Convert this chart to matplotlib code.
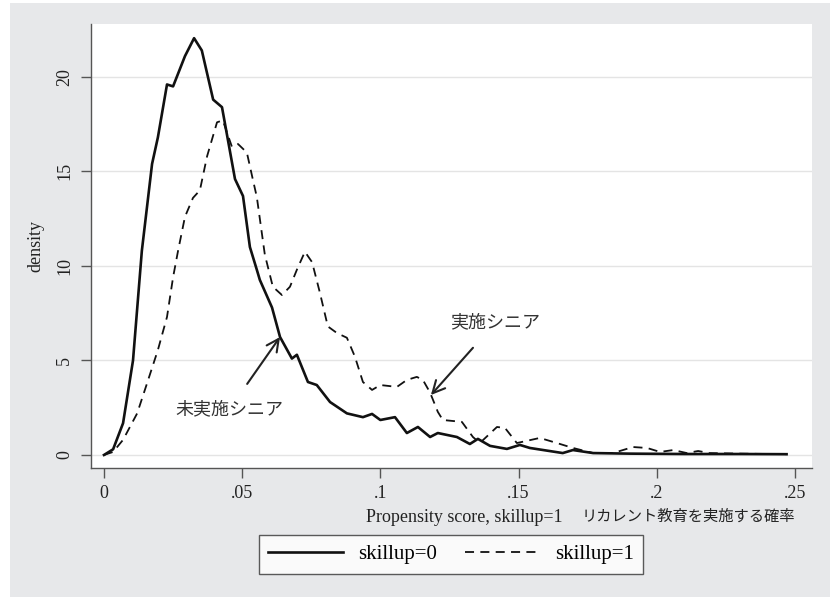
import matplotlib
matplotlib.use('Agg')
import matplotlib.pyplot as plt
from matplotlib.patches import Rectangle

plt.rcParams['font.family'] = ['Liberation Serif', 'Noto Sans CJK JP', 'DejaVu Sans']
plt.rcParams['font.size'] = 12

# kernel density of the propensity score
solid_x = [0, 0.0033, 0.0069, 0.0105, 0.0137, 0.0174, 0.0195, 0.0228, 0.025, 0.0293,
           0.0326, 0.0354, 0.0395, 0.0427, 0.0474, 0.0503, 0.0528, 0.0553, 0.0564, 0.0608,
           0.0637, 0.068, 0.0698, 0.0738, 0.077, 0.0818, 0.0879, 0.0937, 0.097, 0.1,
           0.1053, 0.1096, 0.1136, 0.118, 0.1208, 0.1277, 0.1324, 0.1353, 0.1397, 0.1458,
           0.1505, 0.1541, 0.166, 0.1697, 0.177, 0.19, 0.21, 0.23, 0.247]
solid_y = [0, 0.3, 1.68, 5.0, 10.8, 15.4, 16.8, 19.6, 19.5, 21.1,
           22.05, 21.4, 18.8, 18.4, 14.6, 13.7, 11.0, 9.8, 9.26, 7.8,
           6.24, 5.1, 5.3, 3.86, 3.7, 2.8, 2.2, 2.0, 2.17, 1.85,
           2.0, 1.16, 1.48, 0.95, 1.16, 0.95, 0.58, 0.85, 0.48, 0.32,
           0.53, 0.37, 0.1, 0.26, 0.1, 0.07, 0.05, 0.05, 0.04]

dashed_x = [0, 0.0033, 0.0069, 0.012, 0.0156, 0.0195, 0.0228, 0.025, 0.0268, 0.0293,
            0.0322, 0.0347, 0.0373, 0.0409, 0.043, 0.0463, 0.0485, 0.0517, 0.0539, 0.0553,
            0.0582, 0.0611, 0.0644, 0.0673, 0.0698, 0.0727, 0.0753, 0.0781, 0.081, 0.0843,
            0.0879, 0.0908, 0.0937, 0.097, 0.1, 0.106, 0.1096, 0.1132, 0.1154, 0.118,
            0.1208, 0.1226, 0.1295, 0.1335, 0.136, 0.1422, 0.1451, 0.1494, 0.1577, 0.1639,
            0.1697, 0.177, 0.1842, 0.1914, 0.1965, 0.2012, 0.206, 0.2109, 0.215, 0.219,
            0.23, 0.247]
dashed_y = [0, 0.16, 0.8, 2.2, 3.8, 5.55, 7.3, 9.4, 10.8, 12.6,
            13.6, 14.0, 15.8, 17.6, 17.7, 16.3, 16.45, 16.0, 14.55, 13.65,
            10.6, 8.9, 8.46, 8.9, 9.8, 10.75, 10.2, 8.6, 6.8, 6.45,
            6.2, 5.2, 3.86, 3.44, 3.7, 3.6, 3.97, 4.13, 3.97, 3.3,
            2.28, 1.85, 1.75, 0.95, 0.63, 1.48, 1.43, 0.63, 0.9, 0.63,
            0.37, 0.1, 0.1, 0.42, 0.37, 0.16, 0.26, 0.1, 0.21, 0.1,
            0.07, 0.04]

xticks = [0, 0.05, 0.1, 0.15, 0.2, 0.25]
xtick_labels = ['0', '.05', '.1', '.15', '.2', '.25']
yticks = [0, 5, 10, 15, 20]

fig = plt.figure(figsize=(8.3, 5.99), dpi=100)
fig.patch.set_facecolor('white')
fig.patches.append(Rectangle((10 / 830, 2 / 599), 1 - 10 / 830, 1 - 5 / 599,
                             transform=fig.transFigure, facecolor='#e7e8ea',
                             edgecolor='none', zorder=-10))

ax = fig.add_axes([91 / 830, 1 - 468 / 599, (812 - 91) / 830, (468 - 24) / 599])
ax.set_facecolor('white')

ax.plot(solid_x, solid_y, color='#111111', lw=1.9, label='skillup=0')
ax.plot(dashed_x, dashed_y, color='#111111', lw=1.3, linestyle=(0, (5, 3.5)),
        label='skillup=1')

ax.set_xlim(-0.0047, 0.2562)
ax.set_ylim(-0.69, 22.8)
ax.set_xticks(xticks)
ax.set_xticklabels(xtick_labels)
ax.set_yticks(yticks)
ax.set_yticklabels([str(v) for v in yticks], rotation=90, va='center')
ax.yaxis.grid(True, color='#e4e4e4', lw=1)
ax.set_axisbelow(True)

for s in ['top', 'right']:
    ax.spines[s].set_visible(False)
for s in ['left', 'bottom']:
    ax.spines[s].set_color('#555555')
    ax.spines[s].set_linewidth(1)
ax.tick_params(direction='out', length=7, width=1, color='#555555',
               labelsize=13, labelcolor='#222222')
ax.tick_params(axis='x', pad=5)
ax.tick_params(axis='y', pad=6)

ax.set_ylabel('density', fontsize=13, color='#222222', labelpad=8)
fig.text(563 / 830, 1 - 517 / 599, 'Propensity score, skillup=1',
         ha='right', va='center', fontsize=13, color='#222222')
fig.text(795 / 830, 1 - 517 / 599, 'リカレント教育を実施する確率',
         ha='right', va='center', fontsize=11, color='#222222')

ax.annotate('未実施シニア', xy=(0.0637, 6.24), xytext=(0.0452, 2.38),
            ha='center', va='center', fontsize=13, color='#333333',
            arrowprops=dict(arrowstyle='->', lw=1.5, color='#222222',
                            mutation_scale=22, shrinkA=13, shrinkB=0))
ax.annotate('実施シニア', xy=(0.1183, 3.17), xytext=(0.1415, 6.98),
            ha='center', va='center', fontsize=13, color='#333333',
            arrowprops=dict(arrowstyle='->', lw=1.5, color='#222222',
                            mutation_scale=22, shrinkA=13, shrinkB=0))

leg = fig.legend(loc='center', bbox_to_anchor=(451 / 830, 1 - 554.5 / 599), ncol=2,
                 frameon=True, fancybox=False, handlelength=3.6, handletextpad=0.72,
                 columnspacing=1.35, borderpad=0.45, borderaxespad=0, fontsize=15)
leg.get_frame().set_edgecolor('#333333')
leg.get_frame().set_linewidth(1)
leg.get_frame().set_facecolor('white')

fig.savefig('out.png', dpi=100, facecolor=fig.get_facecolor())
